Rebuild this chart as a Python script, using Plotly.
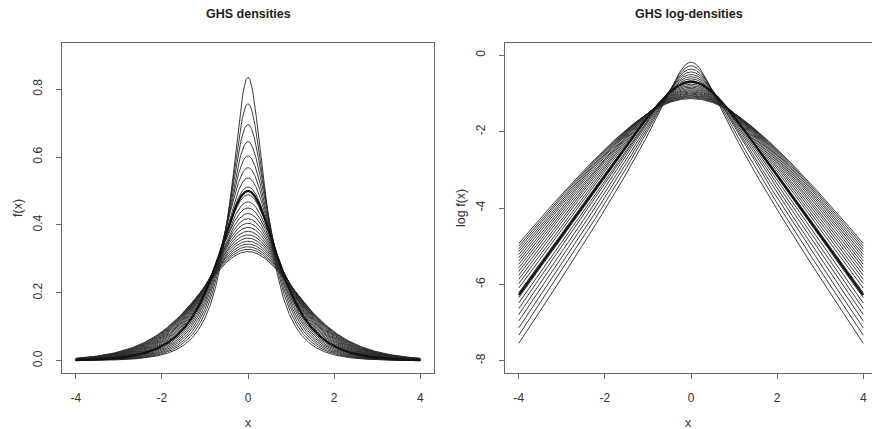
import numpy as np
import plotly.graph_objects as go

# Shape parameters rho of the generalized hyperbolic secant family
rho_values = [0.50, 0.567, 0.633, 0.70, 0.767, 0.833, 0.90, 0.967, 1.033, 1.10,
              1.167, 1.233, 1.30, 1.367, 1.433, 1.50, 1.567, 1.633, 1.70, 1.767,
              1.833, 1.90, 1.967]
rho_bold = 1.0                     # the standard hyperbolic secant, drawn heavier
x_min, x_max = -4.0, 4.0
dens_ticks = [0.0, 0.2, 0.4, 0.6, 0.8]
dens_tick_text = ["0.0", "0.2", "0.4", "0.6", "0.8"]
log_ticks = [0, -2, -4, -6, -8]
log_tick_text = ["0", "-2", "-4", "-6", "-8"]
x_ticks = [-4, -2, 0, 2, 4]
x_tick_text = ["-4", "-2", "0", "2", "4"]

LANCZOS_G = 7
LANCZOS_P = [0.99999999999980993, 676.5203681218851, -1259.1392167224028,
             771.32342877765313, -176.61502916214059, 12.507343278686905,
             -0.13857109526572012, 9.9843695780195716e-6, 1.5056327351493116e-7]


def log_gamma_plus1(z):
    """Complex log Gamma(z + 1) via the Lanczos approximation (Re z > -0.5)."""
    s = np.full_like(z, LANCZOS_P[0])
    for i in range(1, len(LANCZOS_P)):
        s = s + LANCZOS_P[i] / (z + i)
    t = z + LANCZOS_G + 0.5
    return 0.5 * np.log(2 * np.pi) + (z + 0.5) * np.log(t) - t + np.log(s)


def ghs_log_density(x, rho):
    """log f(x) = log[2^(rho-2) / (pi Gamma(rho)) * |Gamma(rho/2 + i x/2)|^2]."""
    z = rho / 2 + 1j * x / 2
    log_abs_gamma_sq = 2 * np.real(log_gamma_plus1(z)) - np.log(np.abs(z) ** 2)
    from math import lgamma, log, pi
    return (rho - 2) * log(2) - log(pi) - lgamma(rho) + log_abs_gamma_sq


xs = np.linspace(x_min, x_max, 801)

fig = go.Figure()
line_col = "#262626"
for r in rho_values:
    lf = ghs_log_density(xs, r)
    fig.add_trace(go.Scatter(x=xs, y=np.exp(lf), mode="lines", xaxis="x", yaxis="y",
                             line=dict(color=line_col, width=0.9), hoverinfo="skip"))
    fig.add_trace(go.Scatter(x=xs, y=lf, mode="lines", xaxis="x2", yaxis="y2",
                             line=dict(color=line_col, width=0.9), hoverinfo="skip"))
lf_b = ghs_log_density(xs, rho_bold)
fig.add_trace(go.Scatter(x=xs, y=np.exp(lf_b), mode="lines", xaxis="x", yaxis="y",
                         line=dict(color="#111111", width=2.2), hoverinfo="skip"))
fig.add_trace(go.Scatter(x=xs, y=lf_b, mode="lines", xaxis="x2", yaxis="y2",
                         line=dict(color="#111111", width=2.2), hoverinfo="skip"))

W, H = 872, 429
L, R, T, B = 62, 0, 43, 56
pw = W - L - R
left_dom = [0, 372 / pw]
right_dom = [443 / pw, 1]

tick_font = dict(family="Liberation Sans, Arial, sans-serif", size=12, color="#333333")
frame_col = "#666666"
common = dict(showgrid=False, zeroline=False, showline=True, linecolor=frame_col,
              linewidth=1, ticks="outside", ticklen=5, tickcolor=frame_col,
              tickfont=tick_font, ticklabelstandoff=9)

fig.update_layout(
    width=W, height=H, margin=dict(l=L, r=R, t=T, b=B),
    paper_bgcolor="white", plot_bgcolor="white", showlegend=False,
    xaxis=dict(domain=left_dom, range=[-4.32, 4.32], tickvals=x_ticks,
               ticktext=x_tick_text, mirror=True, anchor="y", **common),
    yaxis=dict(domain=[0, 1], range=[-0.036, 0.936], tickvals=dens_ticks,
               ticktext=dens_tick_text, tickangle=-90, mirror=True, anchor="x", **common),
    xaxis2=dict(domain=right_dom, range=[-4.32, 4.203], tickvals=x_ticks,
                ticktext=x_tick_text, mirror=True, anchor="y2", **common),
    yaxis2=dict(domain=[0, 1], range=[-8.32, 0.32], tickvals=log_ticks,
                ticktext=log_tick_text, tickangle=-90, anchor="x2", **common),
)

title_font = dict(family="Liberation Sans, Arial, sans-serif", size=12.5, color="#222222")
label_font = dict(family="Liberation Sans, Arial, sans-serif", size=12.5, color="#333333")
annots = [
    dict(text="<b>GHS densities</b>", x=(left_dom[0] + left_dom[1]) / 2, y=1,
         yshift=29, font=title_font),
    dict(text="<b>GHS log-densities</b>", x=(right_dom[0] + right_dom[1]) / 2, y=1,
         yshift=29, font=title_font),
    dict(text="x", x=(left_dom[0] + left_dom[1]) / 2, y=0, yshift=-50, font=label_font),
    dict(text="x", x=(right_dom[0] + right_dom[1]) / 2, y=0, yshift=-50, font=label_font),
    dict(text="f(x)", x=left_dom[0], y=0.5, xshift=-44, textangle=-90, font=label_font),
    dict(text="log f(x)", x=right_dom[0], y=0.5, xshift=-44, textangle=-90, font=label_font),
]
for a in annots:
    fig.add_annotation(xref="paper", yref="paper", showarrow=False,
                       xanchor="center", yanchor="middle", **a)

fig.write_html("out.html")
